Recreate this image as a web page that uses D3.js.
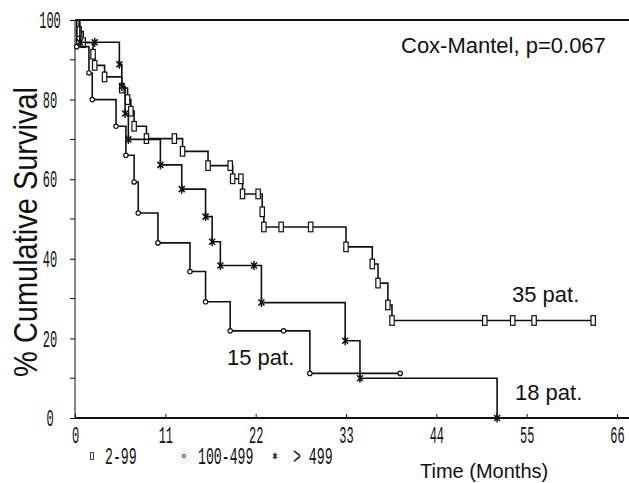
<!DOCTYPE html>
<html>
<head>
<meta charset="utf-8">
<script src="https://cdn.jsdelivr.net/npm/d3@7"></script>
<style>
  body { margin: 0; background: #fff; }
  svg { display: block; }
  .lbl { font-family: "Liberation Sans", Arial, sans-serif; fill: #111; }
  .tk { font-family: "Liberation Mono", "DejaVu Sans Mono", monospace; font-size: 24px; fill: #111; }
</style>
</head>
<body>
<script>
// axis ticks
const months = [0, 11, 22, 33, 44, 55, 66];
const pctTicks = [0, 20, 40, 60, 80, 100];
const pctMinor = [10, 30, 50, 70, 90];

// 2-99 (squares, 35 pat.)
const g1Time = [0, 0.5, 1.0, 2.2, 2.4, 3.6, 5.7, 6.4, 6.8, 7.2, 8.7, 12.1, 13.1, 16.2, 18.9, 19.2, 20.2, 20.4, 22.3, 22.8, 23.0, 25.1, 28.7, 33.0, 36.2, 36.9, 38.1, 38.6, 49.9, 53.3, 55.9, 63.1];
const g1Surv = [100, 97.1, 94.3, 91.4, 88.6, 85.7, 82.9, 80.0, 77.1, 73.3, 70.2, 70.2, 67.0, 63.4, 63.4, 60.1, 60.1, 56.3, 56.3, 51.8, 48.0, 48.0, 48.0, 43.0, 38.7, 33.9, 28.4, 24.5, 24.5, 24.5, 24.5, 24.5];

// 100-499 (circles, 15 pat.)
const g2Time = [0, 0.2, 1.7, 2.1, 5.0, 6.2, 7.2, 7.7, 10.1, 14.0, 15.9, 18.9, 25.4, 28.6, 39.6];
const g2Surv = [100, 93.3, 86.7, 80.0, 73.3, 66.0, 59.3, 51.5, 44.0, 36.8, 29.2, 21.9, 21.9, 11.2, 11.2];

// > 499 (asterisks, 18 pat.)
const g3Time = [0, 0.6, 2.4, 5.4, 5.7, 6.1, 6.5, 10.4, 13.0, 15.9, 16.7, 17.7, 21.8, 22.7, 32.9, 34.7, 51.4];
const g3Surv = [100, 94.4, 94.4, 88.9, 83.3, 76.5, 70.0, 63.6, 57.5, 50.6, 44.3, 38.3, 38.3, 29.0, 19.4, 10.0, 0];

const width = 629, height = 483;
const sx = 0.5; // narrow look of the old plotter font

const svg = d3.select("body").append("svg")
  .attr("width", width)
  .attr("height", height);

const x = d3.scaleLinear().domain([0, 66]).range([75, 617]);
const y = d3.scaleLinear().domain([0, 100]).range([418, 20]);

// frame lines
svg.append("line")
  .attr("x1", x(0)).attr("x2", width).attr("y1", y(100)).attr("y2", y(100))
  .attr("stroke", "#111").attr("stroke-width", 2);
svg.append("line")
  .attr("x1", x(0)).attr("x2", width).attr("y1", y(0)).attr("y2", y(0))
  .attr("stroke", "#111").attr("stroke-width", 2);
svg.append("line")
  .attr("x1", x(0)).attr("x2", x(0)).attr("y1", y(100)).attr("y2", y(0))
  .attr("stroke", "#111").attr("stroke-width", 1);

// x axis
const xAxis = svg.append("g")
  .attr("transform", `translate(0,${y(0)})`)
  .call(d3.axisBottom(x).tickValues(months).tickSize(-4));
xAxis.select(".domain").remove();
xAxis.selectAll("line").attr("stroke", "#111");
xAxis.selectAll("text")
  .attr("class", "tk")
  .attr("dy", null)
  .attr("y", 25)
  .attr("transform", `scale(${sx},1)`);

// y axis
const yAxis = svg.append("g")
  .attr("transform", `translate(${x(0)},0)`)
  .call(d3.axisLeft(y).tickValues(pctTicks).tickSize(5));
yAxis.select(".domain").remove();
yAxis.selectAll("line").attr("stroke", "#111");
yAxis.selectAll("text")
  .attr("class", "tk")
  .attr("text-anchor", "middle")
  .attr("x", -25 / sx)
  .attr("dy", "0.32em")
  .attr("transform", `scale(${sx},1)`);

svg.append("g").selectAll("line")
  .data(pctMinor)
  .join("line")
  .attr("x1", x(0) - 5).attr("x2", x(0))
  .attr("y1", d => y(d)).attr("y2", d => y(d))
  .attr("stroke", "#111");

// markers
function square(g) {
  g.append("rect").attr("x", -2.2).attr("y", -4.8).attr("width", 4.4).attr("height", 9.6)
    .attr("fill", "#fff").attr("stroke", "#111").attr("stroke-width", 1.2);
}
function circle(g) {
  g.append("circle").attr("r", 2.2)
    .attr("fill", "#fff").attr("stroke", "#111").attr("stroke-width", 1.2);
}
function star(g) {
  g.append("path").attr("d", "M0,-4.5V4.5M-3,-3L3,3M3,-3L-3,3")
    .attr("fill", "none").attr("stroke", "#111").attr("stroke-width", 1.5);
}

const groups = [
  {time: g1Time, surv: g1Surv, mark: square},
  {time: g2Time, surv: g2Surv, mark: circle},
  {time: g3Time, surv: g3Surv, mark: star}
];

const line = d3.line()
  .x(d => x(d[0]))
  .y(d => y(d[1]))
  .curve(d3.curveStepAfter);

groups.forEach(grp => {
  const pts = grp.time.map((t, i) => [t, grp.surv[i]]);
  svg.append("path")
    .attr("d", line(pts))
    .attr("fill", "none")
    .attr("stroke", "#111")
    .attr("stroke-width", 1.6);
  svg.append("g").selectAll("g")
    .data(pts.slice(1))
    .join("g")
    .attr("transform", d => `translate(${x(d[0])},${y(d[1])})`)
    .each(function() { grp.mark(d3.select(this)); });
});

// legend under the axis
const legend = [
  {mark: square, sx: 92, tx: 105, text: "2-99"},
  {mark: circle, sx: 184, tx: 198, text: "100-499"},
  {mark: star, sx: 275, tx: 293, text: "> 499"}
];
legend.forEach(l => {
  const g = svg.append("g").attr("transform", `translate(${l.sx},456) scale(0.7)`);
  l.mark(g);
  svg.append("text")
    .attr("class", "tk")
    .attr("transform", `translate(${l.tx},464) scale(0.55,1)`)
    .text(l.text);
});

// annotations
svg.append("text").attr("class", "lbl").attr("font-size", 22)
  .attr("x", 401).attr("y", 53).text("Cox-Mantel, p=0.067");
svg.append("text").attr("class", "lbl").attr("font-size", 22)
  .attr("x", 512).attr("y", 302).text("35 pat.");
svg.append("text").attr("class", "lbl").attr("font-size", 22)
  .attr("x", 227).attr("y", 365).text("15 pat.");
svg.append("text").attr("class", "lbl").attr("font-size", 22)
  .attr("x", 515).attr("y", 400).text("18 pat.");
svg.append("text").attr("class", "lbl").attr("font-size", 20)
  .attr("x", 420).attr("y", 478).text("Time (Months)");
svg.append("text").attr("class", "lbl").attr("font-size", 29)
  .attr("text-anchor", "middle")
  .attr("transform", "translate(37,232) rotate(-90) scale(1,1.12)")
  .text("% Cumulative Survival");
</script>
</body>
</html>
